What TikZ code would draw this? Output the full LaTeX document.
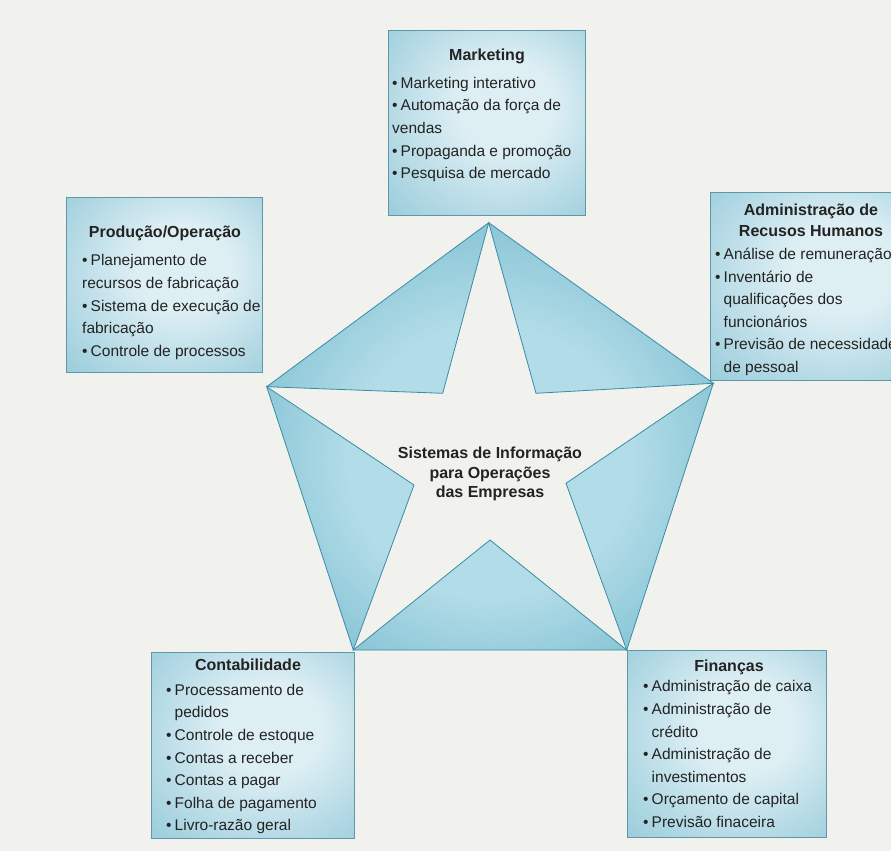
\documentclass[tikz,border=0pt]{standalone}
\usepackage{fontspec}
\setmainfont{Liberation Sans}
\definecolor{bgpage}{RGB}{241,241,238}
\definecolor{tealdark}{RGB}{92,172,196}
\definecolor{teallight}{RGB}{178,220,231}
\definecolor{tealline}{RGB}{58,140,166}
\definecolor{boxedge}{RGB}{95,150,168}
\definecolor{boxdark}{RGB}{145,200,216}
\definecolor{boxlight}{RGB}{222,239,244}
\definecolor{txt}{RGB}{35,35,35}
\pgfdeclareradialshading{starshade}{\pgfpoint{0bp}{-4bp}}{color(0bp)=(teallight); color(16bp)=(teallight); color(40bp)=(tealdark); color(60bp)=(tealdark)}
\pgfdeclareradialshading{boxshade}{\pgfpoint{6bp}{6bp}}{color(0bp)=(boxlight); color(12bp)=(boxlight); color(42bp)=(boxdark); color(60bp)=(boxdark)}
\newcommand{\bl}{\makebox[8.5pt][l]{•}}
\newcommand{\hb}{\hspace*{8.5pt}}
\begin{document}
\begin{tikzpicture}[x=1pt,y=-1pt,
  box/.style={draw=boxedge, line width=1.1pt, shading=boxshade, anchor=north west, inner sep=0pt, rectangle},
  ttl/.style={font=\fontsize{16}{19.5}\selectfont\bfseries, text=txt, anchor=base, inner sep=0pt},
  body/.style={font=\fontsize{15.5}{22.6}\selectfont, text=txt, anchor=north west, inner sep=0pt, align=left},
  tri/.style={draw=tealline, line width=0.8pt, line join=miter}]
\useasboundingbox (0,0) rectangle (891,851);
\clip (0,0) rectangle (891,851);
\fill[bgpage] (0,0) rectangle (891,851);

% star geometry
\coordinate (T) at (488.7,222.7);
\coordinate (L) at (266.7,386.7);
\coordinate (R) at (713.3,383.3);
\coordinate (BL) at (353.3,650);
\coordinate (BR) at (626.7,650);
\coordinate (a1) at (442.7,393.3);
\coordinate (a2) at (536,393.3);
\coordinate (a3) at (566,483.3);
\coordinate (a4) at (490,540);
\coordinate (a5) at (414,485);

\path[shading=starshade] (T) -- (L) -- (a1) -- cycle
  (T) -- (a2) -- (R) -- cycle
  (R) -- (BR) -- (a3) -- cycle
  (BR) -- (BL) -- (a4) -- cycle
  (BL) -- (L) -- (a5) -- cycle;
\draw[tri] (T) -- (L) -- (a1) -- cycle;
\draw[tri] (T) -- (a2) -- (R) -- cycle;
\draw[tri] (R) -- (BR) -- (a3) -- cycle;
\draw[tri] (BR) -- (BL) -- (a4) -- cycle;
\draw[tri] (BL) -- (L) -- (a5) -- cycle;

\node[font=\fontsize{16}{19.7}\selectfont\bfseries, text=txt, anchor=north, inner sep=0pt, align=center] (center) at (490,444.5)
  {\strut Sistemas de Informação\\para Operações\\das Empresas};

% Marketing
\node[box, minimum width=197pt, minimum height=185pt] (mkt) at (388,30) {};
\node[ttl] (mktT) at (487,61) {Marketing};
\node[body] (mktB) at (392,72.2) {\strut\bl Marketing interativo\\\bl Automação da força de\\vendas\\\bl Propaganda e promoção\\\bl Pesquisa de mercado};

% Producao
\node[box, minimum width=196pt, minimum height=175pt] (prod) at (66,197) {};
\node[ttl] (prodT) at (165,237.7) {Produção/Operação};
\node[body] (prodB) at (82,249.9) {\strut\bl Planejamento de\\recursos de fabricação\\\bl Sistema de execução de\\fabricação\\\bl Controle de processos};

% RH
\node[box, minimum width=220pt, minimum height=188pt] (rh) at (710,192) {};
\node[ttl] (rhT1) at (811,215) {Administração de};
\node[ttl] (rhT2) at (811,236.7) {Recusos Humanos};
\node[body] (rhB) at (715,243.5) {\strut\bl Análise de remuneração\\\bl Inventário de\\\hb qualificações dos\\\hb funcionários\\\bl Previsão de necessidades\\\hb de pessoal};

% Contabilidade
\node[box, minimum width=203pt, minimum height=186pt] (cont) at (151,652) {};
\node[ttl] (contT) at (248,670.7) {Contabilidade};
\node[body] (contB) at (166,679.2) {\strut\bl Processamento de\\\hb pedidos\\\bl Controle de estoque\\\bl Contas a receber\\\bl Contas a pagar\\\bl Folha de pagamento\\\bl Livro-razão geral};

% Financas
\node[box, minimum width=199pt, minimum height=187pt] (fin) at (627,650) {};
\node[ttl] (finT) at (729,671) {Finanças};
\node[body] (finB) at (643,675.9) {\strut\bl Administração de caixa\\\bl Administração de\\\hb crédito\\\bl Administração de\\\hb investimentos\\\bl Orçamento de capital\\\bl Previsão finaceira};
\end{tikzpicture}
\end{document}
